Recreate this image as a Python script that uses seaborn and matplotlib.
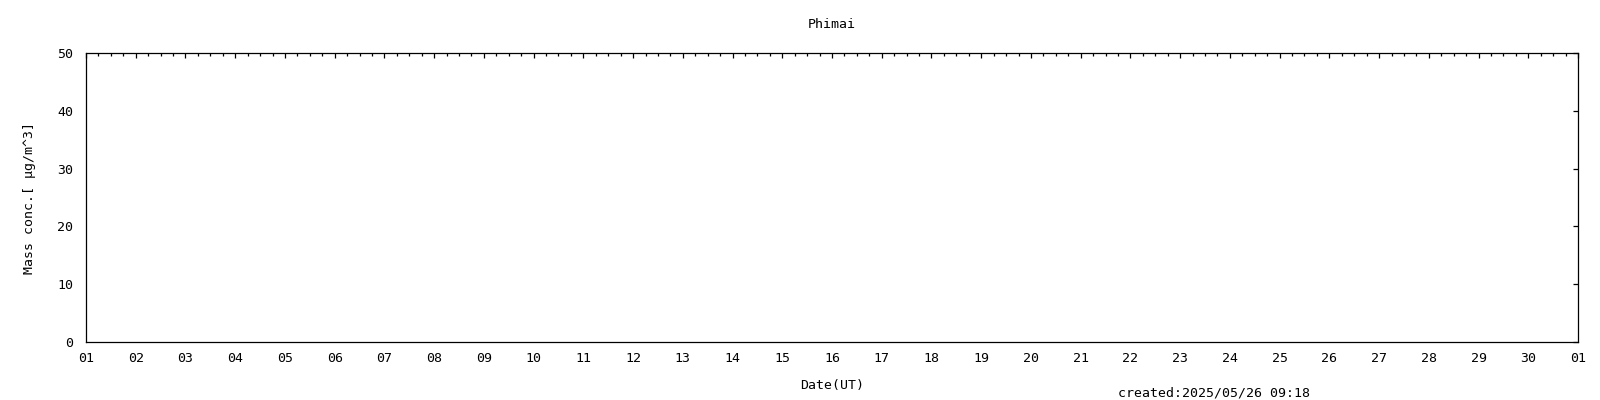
import matplotlib
matplotlib.use("Agg")
import matplotlib.pyplot as plt
import matplotlib.dates as mdates
import seaborn as sns
import pandas as pd

# Data (the reference chart contains no observations)
station = "Phimai"
created = "created:2025/05/26 09:18"
month_start = "2025-04-01"
month_end = "2025-05-01"
dates = []          # no data points in the reference
mass_conc = []      # no data points in the reference
y_ticks = [0, 10, 20, 30, 40, 50]

sns.set_theme(style="white")
plt.rcParams['font.family'] = ['DejaVu Sans Mono', 'DejaVu Sans']
plt.rcParams['text.color'] = 'black'
FS = 9.5

W, H = 1600, 400
fig = plt.figure(figsize=(16, 4), dpi=100)
L, R, T, B = 86, 1578, 53, 342
ax = fig.add_axes([L/W, 1-B/H, (R-L)/W, (B-T)/H])

df = pd.DataFrame({"date": pd.to_datetime(pd.Series(dates, dtype="object")),
                   "mass": pd.Series(mass_conc, dtype=float)})
if len(df):
    sns.lineplot(data=df, x="date", y="mass", ax=ax, color="red")

ax.set_xlim(pd.Timestamp(month_start), pd.Timestamp(month_end))
ax.set_ylim(0, 50)
ax.set_yticks(y_ticks)
ax.xaxis.set_major_locator(mdates.DayLocator())
ax.xaxis.set_minor_locator(mdates.HourLocator(byhour=[6, 12, 18]))
ax.xaxis.set_major_formatter(mdates.DateFormatter("%d"))

for s in ax.spines.values():
    s.set_color("black")
    s.set_linewidth(0.9)
ax.tick_params(which="both", direction="in", top=True, right=True,
               colors="black", labelcolor="black", width=0.9)
ax.tick_params(which="major", length=3.6, labelsize=FS)
ax.tick_params(axis="x", which="major", pad=7.5)
ax.tick_params(axis="y", which="major", pad=9.0)
ax.tick_params(which="minor", length=1.8)
ax.tick_params(axis="y", which="minor", length=0)
ax.set_xlabel("")
ax.set_ylabel("")
ax.grid(False)

cx = (L + R) / 2 / W
fig.text(cx, 1-24.5/H, station, fontsize=FS, ha="center", va="center", color="black")
fig.text(cx, 1-385/H, "Date(UT)", fontsize=FS, ha="center", va="center", color="black")
fig.text(30/W, 1-198/H, "Mass conc.[ μg/m^3]", fontsize=FS, ha="center",
         va="center", rotation=90, color="black")
fig.text(1118/W, 1-396/H, created, fontsize=FS, ha="left", va="baseline", color="black")

fig.savefig("out.png", dpi=100, facecolor="white")
